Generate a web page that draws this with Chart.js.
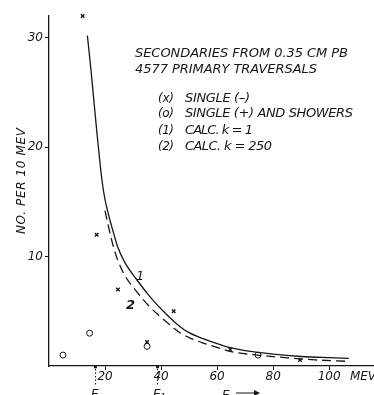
<!DOCTYPE html>
<html>
<head>
<meta charset="utf-8">
<script src="https://cdn.jsdelivr.net/npm/chart.js@4.4.1/dist/chart.umd.min.js"></script>
<style>
    html, body { margin: 0; padding: 0; background: #fff; }
    #wrap { width: 374px; height: 395px; }
</style>
</head>
<body>
<div id="wrap"><canvas id="chart" width="374" height="395"></canvas></div>
<script>
// Values (energy in MEV, number per 10 MEV)
const singleNegE = [12, 17, 24.6, 35, 44.5, 64.7, 89.6];
const singleNegN = [32, 12, 7, 2.2, 5, 1.5, 0.55];

const singlePosE = [5, 14.5, 35, 74.6];
const singlePosN = [1, 3, 1.8, 1];

const calc1E = [13.7, 15, 17, 19, 20, 21, 22, 23, 24.5, 27, 31, 36, 41.6, 47, 50, 55, 60, 65, 70, 80, 90, 100, 107];
const calc1N = [30.2, 27.0, 21.6, 16.8, 15.2, 14.1, 13.1, 12.2, 10.9, 9.5, 8.0, 6.35, 4.8, 3.55, 3.05, 2.5, 2.05, 1.65, 1.4, 1.08, 0.87, 0.76, 0.7];

const calc250E = [20, 21, 22, 23, 24.5, 27, 31, 36, 41.6, 47, 50, 55, 60, 65, 70, 75, 85, 95, 107];
const calc250N = [14.2, 13.0, 11.9, 10.9, 9.7, 8.3, 6.9, 5.4, 4.1, 3.0, 2.6, 2.1, 1.7, 1.32, 1.12, 0.98, 0.75, 0.56, 0.42];

const xTicks = [20, 40, 60, 80, 100];
const yTicks = [10, 20, 30];

const ink = '#161616';
const handFont = 'italic 13px "DejaVu Sans", sans-serif';

function toPoints(xs, ys) {
    return xs.map((x, i) => ({ x: x, y: ys[i] }));
}

// draw a string stretched to a given width with letter spacing
function fitText(ctx, text, x, y, width) {
    ctx.letterSpacing = '0px';
    const w = ctx.measureText(text).width;
    const ls = (width - w) / (text.length - 1);
    ctx.letterSpacing = ls + 'px';
    ctx.fillText(text, x, y);
    ctx.letterSpacing = '0px';
}

const notes = {
    id: 'notes',
    afterDraw(chart) {
        const ctx = chart.ctx;
        ctx.save();
        ctx.fillStyle = ink;
        ctx.strokeStyle = ink;
        ctx.textAlign = 'left';
        ctx.textBaseline = 'alphabetic';
        ctx.font = handFont;

        // heading
        fitText(ctx, 'SECONDARIES FROM 0.35 CM PB', 135, 57, 213);
        fitText(ctx, '4577 PRIMARY TRAVERSALS', 135, 73, 182);

        // key
        ctx.font = 'italic 12px "DejaVu Sans", sans-serif';
        fitText(ctx, '(x)', 158, 102, 16);
        fitText(ctx, '(o)', 158, 117, 16);
        fitText(ctx, '(1)', 158, 134, 16);
        fitText(ctx, '(2)', 158, 150, 16);
        ctx.font = handFont;
        fitText(ctx, 'SINGLE (\u2013)', 185, 102, 65);
        fitText(ctx, 'SINGLE (+) AND SHOWERS', 185, 117, 168);
        fitText(ctx, 'CALC. k = 1', 185, 134, 68);
        fitText(ctx, 'CALC. k = 250', 185, 150, 87);

        // curve numbers
        ctx.font = 'italic 13px "DejaVu Sans", sans-serif';
        ctx.fillText('1', 136, 280);
        ctx.font = 'italic bold 13px "DejaVu Sans", sans-serif';
        ctx.fillText('2', 126, 309);

        // axis unit
        ctx.font = 'italic 12px "DejaVu Sans", sans-serif';
        fitText(ctx, 'MEV', 350, 380, 26);

        // y axis title
        ctx.save();
        ctx.translate(25, 234);
        ctx.rotate(-Math.PI / 2);
        fitText(ctx, 'NO. PER 10 MEV', 0, 0, 106);
        ctx.restore();

        // threshold marks below the axis
        ctx.lineWidth = 1;
        ctx.setLineDash([1.5, 2]);
        [95.5, 157.5].forEach(px => {
            ctx.beginPath();
            ctx.moveTo(px, 369);
            ctx.lineTo(px, 386);
            ctx.stroke();
            ctx.beginPath();
            ctx.arc(px, 367, 1.6, 0, Math.PI * 2);
            ctx.fill();
        });
        ctx.setLineDash([]);
        ctx.font = 'italic 12px "DejaVu Sans", sans-serif';
        ctx.fillText('E', 91, 398);
        ctx.fillText('E\u2081', 153, 398);
        ctx.fillText('E', 222, 399);
        ctx.beginPath();
        ctx.moveTo(236, 393);
        ctx.lineTo(258, 393);
        ctx.stroke();
        ctx.beginPath();
        ctx.moveTo(260, 393);
        ctx.lineTo(254, 390);
        ctx.lineTo(254, 396);
        ctx.closePath();
        ctx.fill();
        ctx.restore();
    }
};

const ctx = document.getElementById('chart');
new Chart(ctx, {
    type: 'scatter',
    data: {
        datasets: [
            {
                label: 'CALC. k = 1',
                data: toPoints(calc1E, calc1N),
                showLine: true,
                borderColor: ink,
                borderWidth: 1.3,
                pointRadius: 0,
                cubicInterpolationMode: 'monotone',
                fill: false
            },
            {
                label: 'CALC. k = 250',
                data: toPoints(calc250E, calc250N),
                showLine: true,
                borderColor: ink,
                borderWidth: 1.3,
                borderDash: [9, 5],
                pointRadius: 0,
                cubicInterpolationMode: 'monotone',
                fill: false
            },
            {
                label: 'SINGLE (-)',
                data: toPoints(singleNegE, singleNegN),
                pointStyle: 'crossRot',
                pointRadius: 2.5,
                borderColor: ink,
                borderWidth: 1.3,
                clip: false
            },
            {
                label: 'SINGLE (+) AND SHOWERS',
                data: toPoints(singlePosE, singlePosN),
                pointStyle: 'circle',
                pointRadius: 3,
                borderColor: ink,
                backgroundColor: '#fff',
                borderWidth: 1,
                clip: false
            }
        ]
    },
    options: {
        responsive: false,
        animation: false,
        devicePixelRatio: 1,
        layout: {
            autoPadding: false,
            padding: { top: 16, right: 0, left: 0, bottom: 0 }
        },
        plugins: {
            legend: { display: false },
            tooltip: { enabled: false }
        },
        scales: {
            x: {
                type: 'linear',
                min: 0,
                max: 116,
                afterBuildTicks: scale => {
                    scale.ticks = xTicks.map(v => ({ value: v }));
                },
                afterFit: scale => {
                    scale.height = 29;
                },
                grid: {
                    drawOnChartArea: false,
                    drawTicks: true,
                    tickLength: 4,
                    color: ink
                },
                border: { display: true, color: ink, width: 1.3 },
                ticks: {
                    color: ink,
                    padding: 0,
                    maxRotation: 0,
                    font: { family: '"DejaVu Sans"', style: 'italic', size: 12 }
                }
            },
            y: {
                type: 'linear',
                min: 0,
                max: 32,
                afterBuildTicks: scale => {
                    scale.ticks = yTicks.map(v => ({ value: v }));
                },
                afterFit: scale => {
                    scale.width = 49;
                },
                grid: {
                    drawOnChartArea: false,
                    drawTicks: true,
                    tickLength: 4,
                    color: ink
                },
                border: { display: true, color: ink, width: 1.3 },
                ticks: {
                    color: ink,
                    padding: 2,
                    font: { family: '"DejaVu Sans"', style: 'italic', size: 12 }
                }
            }
        }
    },
    plugins: [notes]
});
</script>
</body>
</html>
